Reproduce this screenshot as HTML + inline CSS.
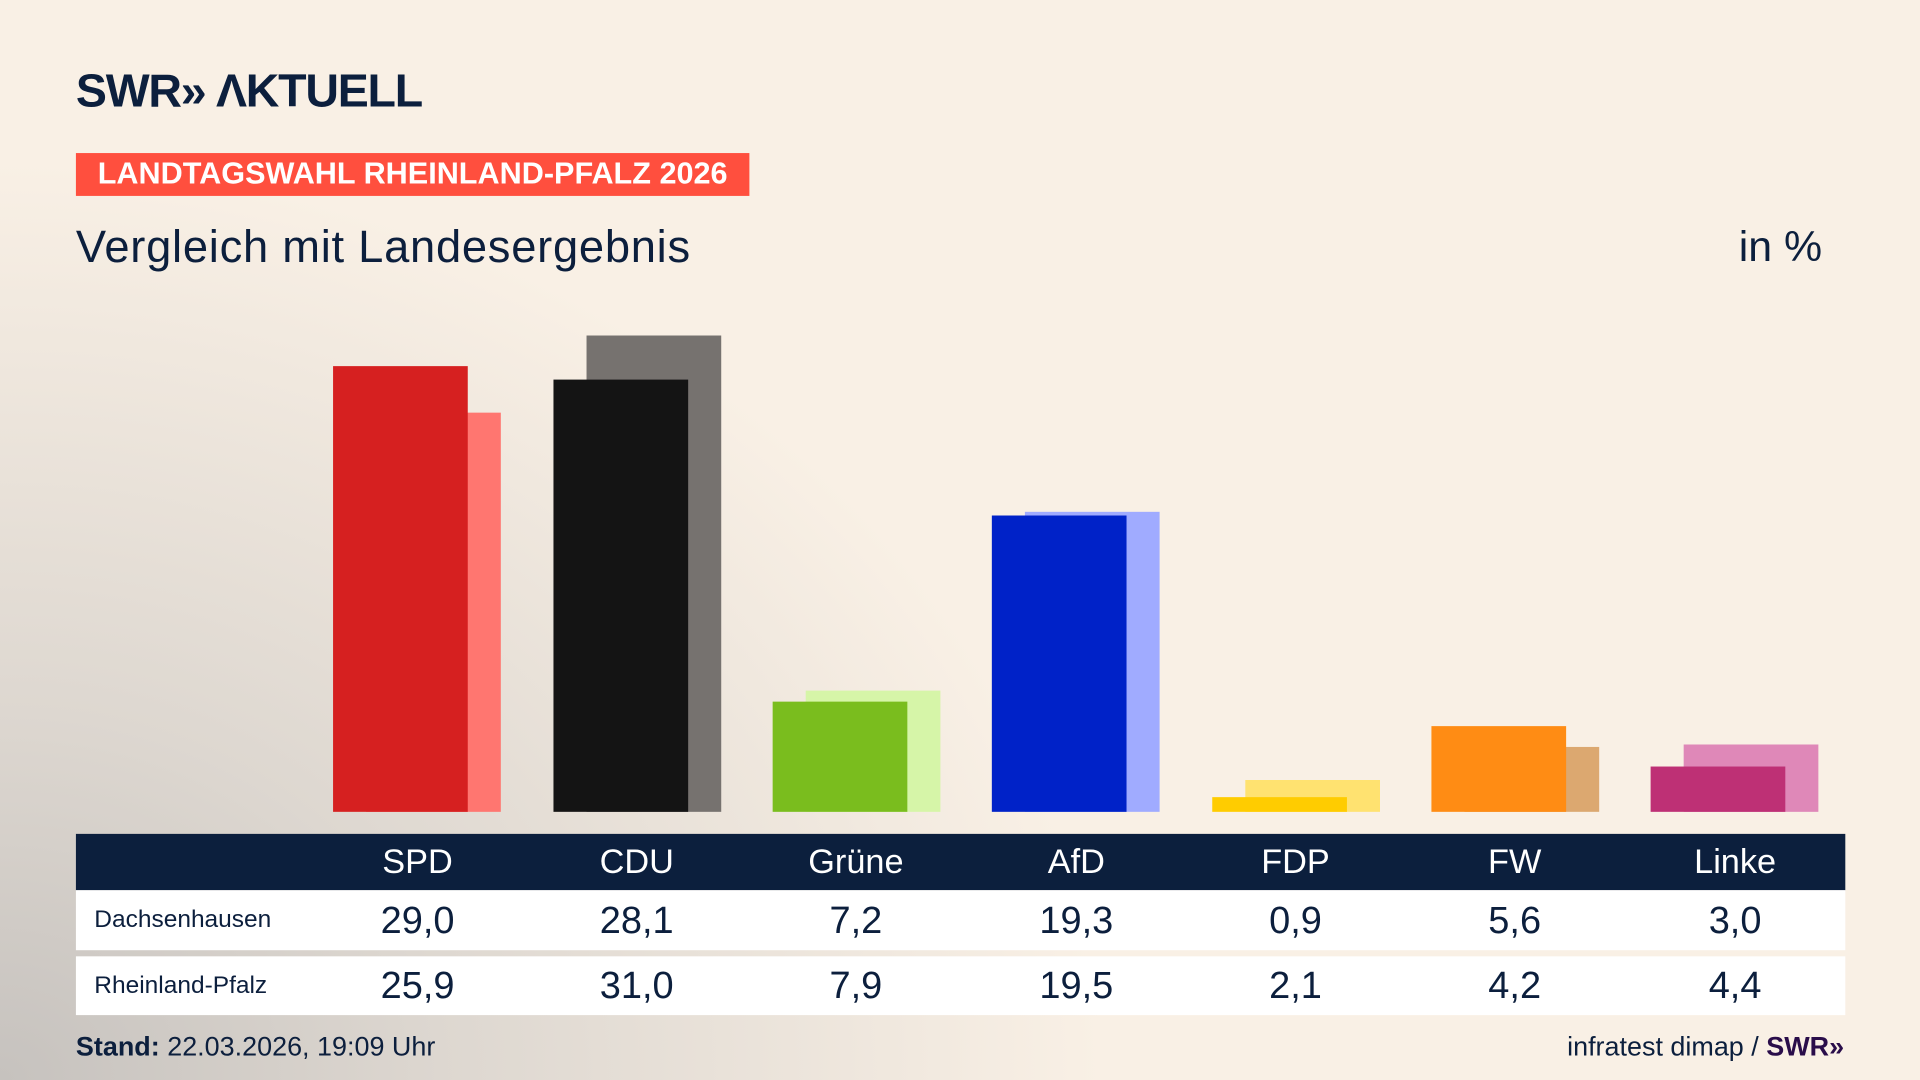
<!DOCTYPE html>
<html><head><meta charset="utf-8"><style>
html,body{margin:0;padding:0;width:1920px;height:1080px;overflow:hidden;}
#s{position:absolute;left:0;top:0;width:1568px;height:882px;transform:scale(1.22449);transform-origin:0 0;
background:radial-gradient(ellipse 900px 750px at 0px 882px,#c6c2be 0%,#ddd7d0 40%,rgba(248,240,229,0) 100%),#f9f0e5;
font-family:"Liberation Sans",sans-serif;color:#0c1f3d;}
.a{position:absolute;}
.b{position:absolute;width:110px;}
.t{position:absolute;text-align:center;width:140px;}
</style></head><body><div id="s">
<div class="a" style="left:62px;top:54px;font-size:38px;font-weight:bold;letter-spacing:-1px;">SWR<span style="letter-spacing:-2px">»</span>&nbsp;ΛKTUELL</div>
<div class="a" style="left:62px;top:125px;width:550px;height:35px;background:#ff4f3e;color:#fff;font-size:25px;font-weight:bold;line-height:35px;text-align:center;">LANDTAGSWAHL RHEINLAND-PFALZ 2026</div>
<div class="a" style="left:62px;top:181px;font-size:37px;letter-spacing:0.6px;">Vergleich mit Landesergebnis</div>
<div class="a" style="left:1420px;top:182px;font-size:35px;">in %</div>

<div class="b" style="left:299px;top:337px;height:326px;background:#ff7670"></div>
<div class="b" style="left:272px;top:299px;height:364px;background:#d62020"></div>
<div class="b" style="left:479px;top:274px;height:389px;background:#76726f"></div>
<div class="b" style="left:452px;top:310px;height:353px;background:#141414"></div>
<div class="b" style="left:658px;top:564px;height:99px;background:#d6f5a8"></div>
<div class="b" style="left:631px;top:573px;height:90px;background:#7abd1e"></div>
<div class="b" style="left:837px;top:418px;height:245px;background:#a0abff"></div>
<div class="b" style="left:810px;top:421px;height:242px;background:#0022c8"></div>
<div class="b" style="left:1017px;top:637px;height:26px;background:#ffe270"></div>
<div class="b" style="left:990px;top:651px;height:12px;background:#ffcc00"></div>
<div class="b" style="left:1196px;top:610px;height:53px;background:#dca870"></div>
<div class="b" style="left:1169px;top:593px;height:70px;background:#ff8c14"></div>
<div class="b" style="left:1375px;top:608px;height:55px;background:#df88b8"></div>
<div class="b" style="left:1348px;top:626px;height:37px;background:#be3075"></div>

<div class="a" style="left:62px;top:681px;width:1445px;height:46px;background:#0c1f3d"></div>
<div class="a" style="left:62px;top:727px;width:1445px;height:49px;background:#fff"></div>
<div class="a" style="left:62px;top:781px;width:1445px;height:48px;background:#fff"></div>
<div class="a" style="left:77px;top:740px;font-size:20px;">Dachsenhausen</div>
<div class="a" style="left:77px;top:794px;font-size:20px;">Rheinland-Pfalz</div>

<div style="font-size:28px;color:#fff">
<div class="t" style="left:271px;top:688px">SPD</div><div class="t" style="left:450px;top:688px">CDU</div><div class="t" style="left:629px;top:688px">Grüne</div><div class="t" style="left:809px;top:688px">AfD</div><div class="t" style="left:988px;top:688px">FDP</div><div class="t" style="left:1167px;top:688px">FW</div><div class="t" style="left:1347px;top:688px">Linke</div>
</div>
<div style="font-size:31px;">
<div class="t" style="left:271px;top:734px">29,0</div><div class="t" style="left:450px;top:734px">28,1</div><div class="t" style="left:629px;top:734px">7,2</div><div class="t" style="left:809px;top:734px">19,3</div><div class="t" style="left:988px;top:734px">0,9</div><div class="t" style="left:1167px;top:734px">5,6</div><div class="t" style="left:1347px;top:734px">3,0</div>
<div class="t" style="left:271px;top:787px">25,9</div><div class="t" style="left:450px;top:787px">31,0</div><div class="t" style="left:629px;top:787px">7,9</div><div class="t" style="left:809px;top:787px">19,5</div><div class="t" style="left:988px;top:787px">2,1</div><div class="t" style="left:1167px;top:787px">4,2</div><div class="t" style="left:1347px;top:787px">4,4</div>
</div>
<div class="a" style="left:62px;top:842px;font-size:22px;"><b>Stand:</b> 22.03.2026, 19:09 Uhr</div>
<div class="a" style="right:62px;top:842px;font-size:22px;">infratest dimap / <b style="color:#2a0d4a">SWR»</b></div>
</div></body></html>
